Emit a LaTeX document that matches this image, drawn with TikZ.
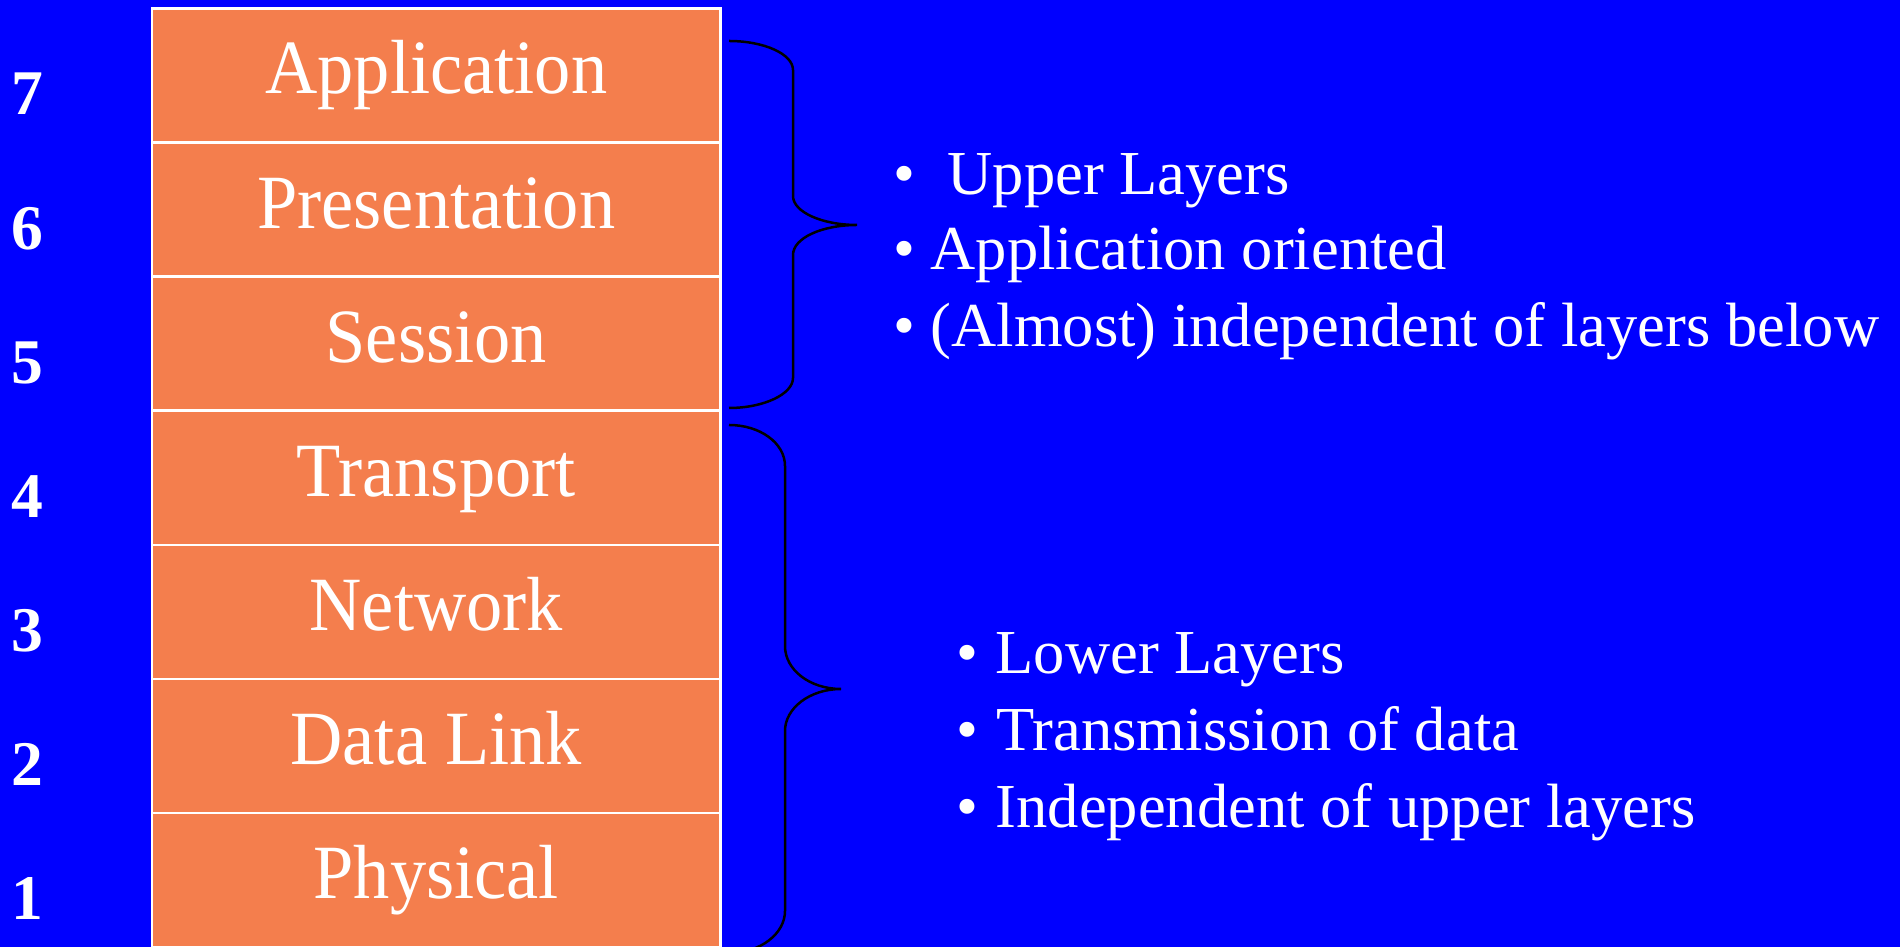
\documentclass[tikz,border=0pt]{standalone}
\usepackage{fontspec}
\setmainfont{Liberation Serif}
\begin{document}
\begin{tikzpicture}[x=0.1mm,y=-0.1mm,
  layerbox/.style={draw=white,line width=0.25mm,fill=layerorange,minimum width=56.85mm,minimum height=13.407mm,inner sep=0,outer sep=0},
  layertext/.style={text=white,inner sep=0,anchor=base,font=\fontsize{20.6}{24}\selectfont},
  numtext/.style={text=white,inner sep=0,anchor=base,font=\fontsize{18.1}{22}\selectfont\bfseries},
  bullettext/.style={text=white,inner sep=0,anchor=base west,font=\fontsize{17.8}{21}\selectfont},
  bulletdot/.style={text=white,inner sep=0,anchor=base,font=\fontsize{17.8}{21}\selectfont},
  bracepath/.style={draw=black,line width=0.25mm}]
\definecolor{layerorange}{RGB}{244,126,77}
\definecolor{slideblue}{RGB}{0,0,255}
\useasboundingbox (0,0) rectangle (1900,947);
\fill[slideblue] (0,0) rectangle (1900,947);

% protocol stack, layer 7 at the top
\foreach \n/\name [count=\i from 0] in {7/Application,6/Presentation,5/Session,4/Transport,3/Network,2/Data Link,1/Physical}{
  \node[layerbox] (box\n) at (436.25,{8.5+134.07*\i+67.035}) {};
  \node[layertext] (name\n) at (436.25,{8.5+134.07*\i+85.5}) {\scalebox{1}[1.06]{\name}};
  \node[numtext] (num\n) at (27.5,{115+134.07*\i}) {\n};
}

% brace over the upper layers
\coordinate (ua) at (729,41);
\coordinate (ub) at (729,408);
\coordinate (utip) at (857,225);
\draw[bracepath] (ua) .. controls (764,41) and (793,54) .. (793,70) -- (793,196)
  .. controls (793,212) and (822,225) .. (utip)
  .. controls (822,225) and (793,238) .. (793,255) -- (793,378)
  .. controls (793,394) and (764,408) .. (ub);

% brace over the lower layers
\coordinate (la) at (729,425);
\coordinate (lb) at (729,953);
\coordinate (ltip) at (841,689);
\draw[bracepath] (la) .. controls (760,425) and (785,443) .. (785,466) -- (785,646)
  .. controls (785,670) and (810,689) .. (ltip)
  .. controls (810,689) and (785,708) .. (785,731) -- (785,911)
  .. controls (785,934) and (760,953) .. (lb);

% notes on the upper layers
\node[bulletdot] (ud1) at (904.6,195) {•};
\node[bulletdot] (ud2) at (904.6,270) {•};
\node[bulletdot] (ud3) at (904.6,347) {•};
\node[bullettext] (ut1) at (947,195) {Upper Layers};
\node[bullettext] (ut2) at (930,270) {Application oriented};
\node[bullettext] (ut3) at (930,347) {(Almost) independent of layers below};

% notes on the lower layers
\node[bulletdot] (ld1) at (967.5,674) {•};
\node[bulletdot] (ld2) at (967.5,751) {•};
\node[bulletdot] (ld3) at (967.5,828) {•};
\node[bullettext] (lt1) at (995,674) {Lower Layers};
\node[bullettext] (lt2) at (996,751) {Transmission of data};
\node[bullettext] (lt3) at (995,828) {Independent of upper layers};
\end{tikzpicture}
\end{document}
